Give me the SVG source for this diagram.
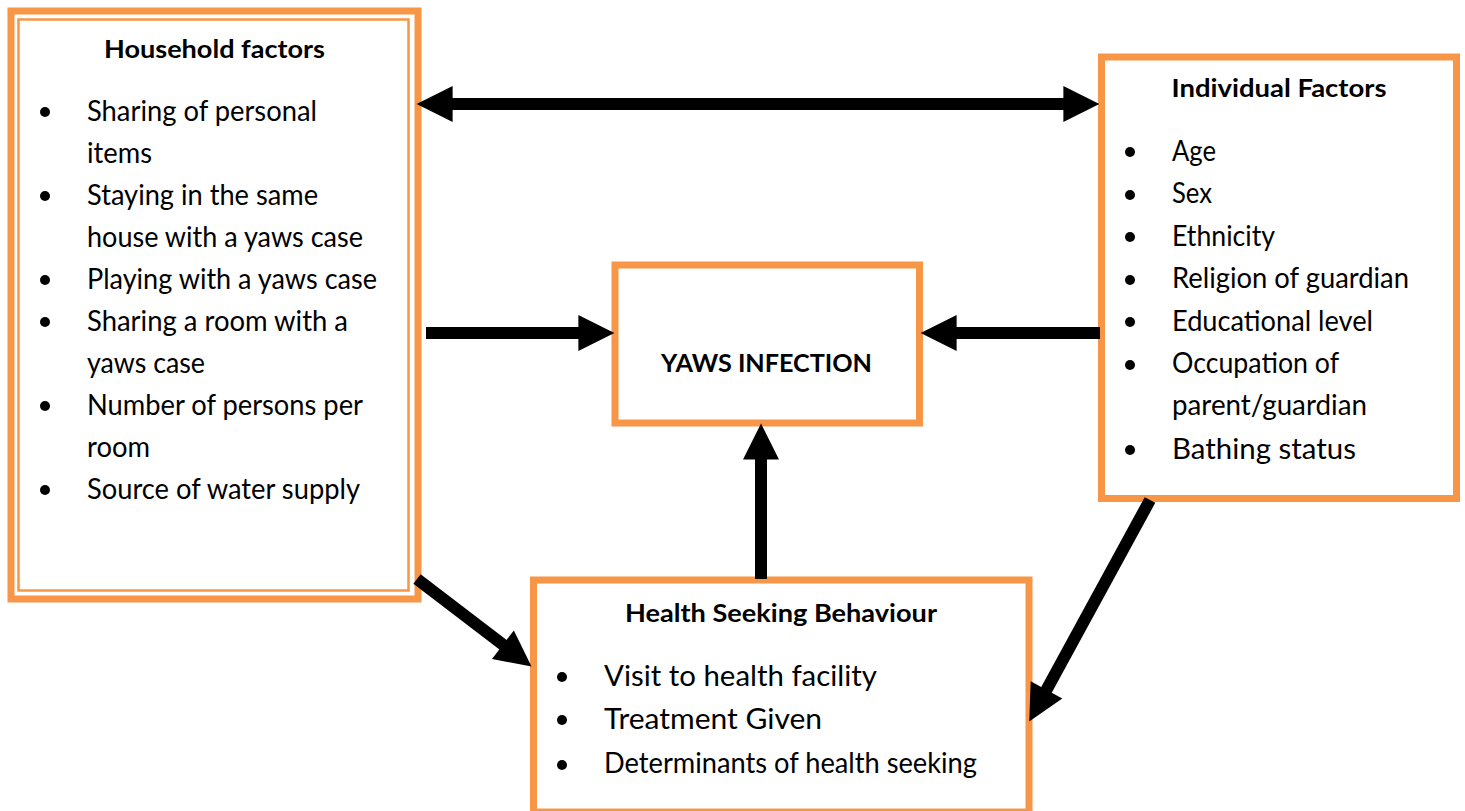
<svg xmlns="http://www.w3.org/2000/svg" width="1465" height="811" viewBox="0 0 1465 811">
<style>
.box{fill:#fff;stroke:#F79646;stroke-width:7}
.thin{fill:none;stroke:#F79646;stroke-width:2.5}
.t{font-family:Lato,"Liberation Sans",sans-serif;font-size:29px;fill:#000}
.b{font-family:Lato,"Liberation Sans",sans-serif;font-size:25px;font-weight:bold;fill:#000}
.arr{stroke:#000;stroke-width:12;fill:none;marker-end:url(#ah)}
.dot{fill:#000}
</style>
<defs>
<marker id="ah" markerWidth="3.1" markerHeight="3" refX="0.05" refY="1.5" orient="auto-start-reverse" markerUnits="strokeWidth" overflow="visible">
<path d="M0,0 L3,1.5 L0,3 z" fill="#000"/>
</marker>
</defs>
<rect width="1465" height="811" fill="#fff"/>

<g id="household">
<rect class="box" x="11" y="11" width="407" height="588" stroke-width="8"/>
<rect class="thin" x="18.5" y="19.5" width="390" height="571"/>
<text class="b" x="214.5" y="58" text-anchor="middle" textLength="221" lengthAdjust="spacingAndGlyphs">Household factors</text>
<circle class="dot" cx="45" cy="112" r="5"/>
<text class="t" x="87" y="121" textLength="230" lengthAdjust="spacingAndGlyphs">Sharing of personal</text>
<text class="t" x="87" y="163" textLength="65" lengthAdjust="spacingAndGlyphs">items</text>
<circle class="dot" cx="45" cy="196" r="5"/>
<text class="t" x="87" y="205" textLength="231" lengthAdjust="spacingAndGlyphs">Staying in the same</text>
<text class="t" x="87" y="247" textLength="276" lengthAdjust="spacingAndGlyphs">house with a yaws case</text>
<circle class="dot" cx="45" cy="280" r="5"/>
<text class="t" x="87" y="289" textLength="290" lengthAdjust="spacingAndGlyphs">Playing with a yaws case</text>
<circle class="dot" cx="45" cy="322" r="5"/>
<text class="t" x="87" y="331" textLength="261" lengthAdjust="spacingAndGlyphs">Sharing a room with a</text>
<text class="t" x="87" y="373" textLength="118" lengthAdjust="spacingAndGlyphs">yaws case</text>
<circle class="dot" cx="45" cy="406" r="5"/>
<text class="t" x="87" y="415" textLength="276" lengthAdjust="spacingAndGlyphs">Number of persons per</text>
<text class="t" x="87" y="457" textLength="63" lengthAdjust="spacingAndGlyphs">room</text>
<circle class="dot" cx="45" cy="490" r="5"/>
<text class="t" x="87" y="499" textLength="273" lengthAdjust="spacingAndGlyphs">Source of water supply</text>
</g>

<g id="individual">
<rect class="box" x="1101.5" y="57" width="355" height="441.5"/>
<text class="b" x="1279" y="97" text-anchor="middle" textLength="215" lengthAdjust="spacingAndGlyphs">Individual Factors</text>
<circle class="dot" cx="1130" cy="152" r="5"/>
<text class="t" x="1172" y="161" textLength="44" lengthAdjust="spacingAndGlyphs">Age</text>
<circle class="dot" cx="1130" cy="195" r="5"/>
<text class="t" x="1172" y="203" textLength="40" lengthAdjust="spacingAndGlyphs">Sex</text>
<circle class="dot" cx="1130" cy="237" r="5"/>
<text class="t" x="1172" y="246" textLength="103" lengthAdjust="spacingAndGlyphs">Ethnicity</text>
<circle class="dot" cx="1130" cy="280" r="5"/>
<text class="t" x="1172" y="288" textLength="237" lengthAdjust="spacingAndGlyphs">Religion of guardian</text>
<circle class="dot" cx="1130" cy="322" r="5"/>
<text class="t" x="1172" y="331" textLength="201" lengthAdjust="spacingAndGlyphs">Educational level</text>
<circle class="dot" cx="1130" cy="365" r="5"/>
<text class="t" x="1172" y="373" textLength="167" lengthAdjust="spacingAndGlyphs">Occupation of</text>
<text class="t" x="1172" y="415" textLength="195" lengthAdjust="spacingAndGlyphs">parent/guardian</text>
<circle class="dot" cx="1130" cy="450" r="5"/>
<text class="t" x="1172" y="459" font-size="31" textLength="184" lengthAdjust="spacingAndGlyphs">Bathing status</text>
</g>

<g id="yaws">
<rect class="box" x="615" y="265" width="304.5" height="158"/>
<text class="b" x="766.5" y="372" text-anchor="middle" font-size="26" textLength="211" lengthAdjust="spacingAndGlyphs">YAWS INFECTION</text>
</g>

<g id="health">
<rect class="box" x="533.5" y="580" width="495.5" height="232"/>
<text class="b" x="781" y="622" text-anchor="middle" textLength="312" lengthAdjust="spacingAndGlyphs">Health Seeking Behaviour</text>
<circle class="dot" cx="562" cy="677" r="5"/>
<text class="t" x="604" y="686" font-size="31" textLength="273" lengthAdjust="spacingAndGlyphs">Visit to health facility</text>
<circle class="dot" cx="562" cy="720" r="5"/>
<text class="t" x="604" y="729" font-size="30" textLength="218" lengthAdjust="spacingAndGlyphs">Treatment Given</text>
<circle class="dot" cx="562" cy="765" r="5"/>
<text class="t" x="604" y="773" font-size="28" textLength="373" lengthAdjust="spacingAndGlyphs">Determinants of health seeking</text>
</g>

<g id="connectors">
<line class="arr" x1="452" y1="104" x2="1064" y2="104" style="marker-start:url(#ah)"/>
<line class="arr" x1="426" y1="333" x2="579" y2="333"/>
<line class="arr" x1="1100" y1="333" x2="956" y2="333"/>
<line class="arr" x1="761" y1="579" x2="761" y2="459"/>
<line class="arr" x1="417" y1="579" x2="503.4" y2="645.1" stroke-width="13"/>
<line class="arr" x1="1150" y1="500" x2="1046.2" y2="690.4" stroke-width="13"/>
</g>
</svg>
